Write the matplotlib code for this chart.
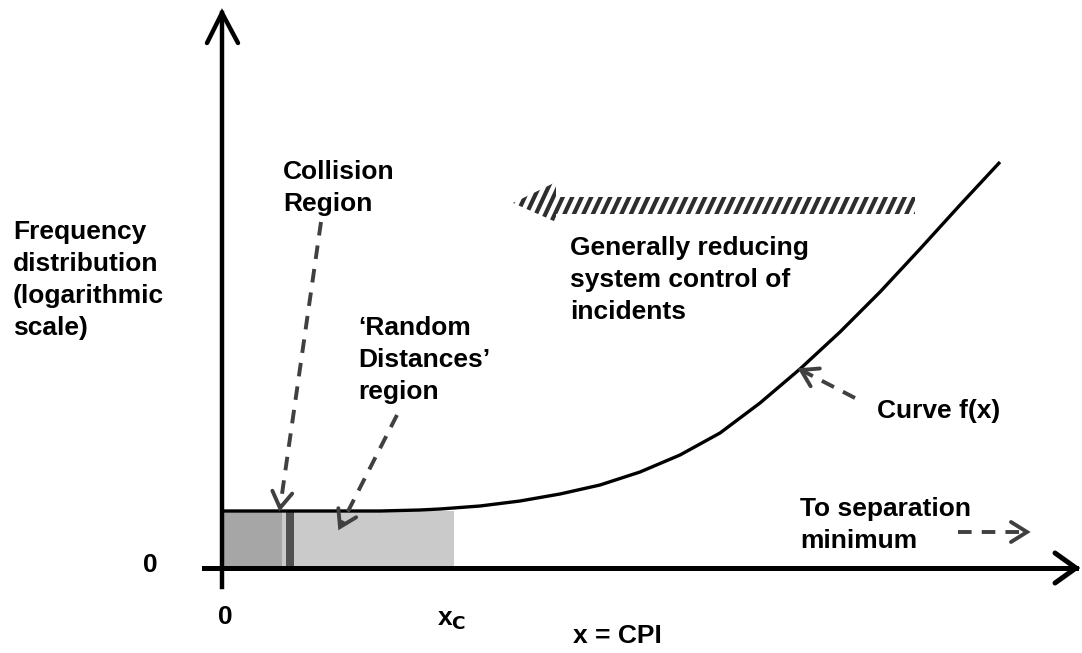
import matplotlib
matplotlib.use("Agg")
import matplotlib.pyplot as plt
from matplotlib.patches import Rectangle, Polygon
import numpy as np

plt.rcParams['font.family'] = ['Liberation Sans', 'DejaVu Sans']

# Diagram coordinates (pixel-like units, y grows downward)
curve_x = [222, 300, 380, 420, 440, 480, 520, 560, 600, 640, 680, 720, 760, 800, 840, 880, 920, 960, 1000]
curve_y = [511, 511, 511, 510, 509, 506, 501, 494, 485, 472, 455, 433, 403, 369, 332, 292, 249, 205, 162]

FS = 19
LS = 1.42
GRAY = '#404040'

fig = plt.figure(figsize=(10.82, 6.53), dpi=100)
ax = fig.add_axes([0, 0, 1, 1])
ax.set_xlim(0, 1082)
ax.set_ylim(653, 0)
ax.axis('off')

# shaded regions
ax.add_patch(Rectangle((222, 511), 60, 57, facecolor='#a6a6a6', edgecolor='none', zorder=1))
ax.add_patch(Rectangle((282, 511), 172, 57, facecolor='#cacaca', edgecolor='none', zorder=1))
ax.add_patch(Rectangle((286, 511), 8, 57, facecolor='#505050', edgecolor='none', zorder=2))

# curve
ax.plot(curve_x, curve_y, color='black', lw=2.4, zorder=3, solid_capstyle='butt')

# axes
ax.plot([222, 222], [587, 13], color='black', lw=3.2, zorder=4)
ax.plot([207, 222, 238], [43, 13, 43], color='black', lw=3.2, solid_capstyle='round', solid_joinstyle='miter', zorder=4)
ax.plot([204, 1076], [568, 568], color='black', lw=3.6, zorder=4)
ax.plot([1055, 1076, 1055], [553, 568, 583], color='black', lw=3.6, solid_capstyle='round', solid_joinstyle='miter', zorder=4)

# hatched arrow (striped fill clipped to arrow outline)
hx = [513, 556, 556, 915, 915, 556, 556]
hy = [203, 182, 197, 197, 214, 214, 222]
clip = Polygon(np.column_stack([hx, hy]), closed=True, facecolor='none', edgecolor='none', lw=0)
ax.add_patch(clip)
for s in np.arange(480, 940, 9.5):
    ln, = ax.plot([s, s + 28], [232, 172], color='#2e2e2e', lw=3.0, solid_capstyle='butt', zorder=2)
    ln.set_clip_path(clip)

def dashed(p0, p1):
    p0 = np.array(p0, float); p1 = np.array(p1, float)
    v = p1 - p0
    v /= np.hypot(*v)
    ax.plot([p0[0], p1[0] - v[0] * 3], [p0[1], p1[1] - v[1] * 3], color=GRAY, lw=2.8,
            linestyle=(0, (3.5, 2.6)), zorder=5)
    n = np.array([-v[1], v[0]])
    L, W = 16, 10
    b = p1 - v * L
    ax.plot([b[0] + n[0] * W, p1[0], b[0] - n[0] * W], [b[1] + n[1] * W, p1[1], b[1] - n[1] * W],
            color=GRAY, lw=2.8, solid_capstyle='round', solid_joinstyle='miter', zorder=5)

dashed((321, 222), (280, 508))
dashed((397, 415), (340, 527))
dashed((855, 398), (801, 370))
dashed((958, 532), (1027, 532))

tk = dict(va='top', ha='left', fontsize=FS, fontweight='bold', linespacing=LS)
ax.text(13, 220, 'Frequency\ndistribution\n(logarithmic\nscale)', **tk)
ax.text(283, 160, 'Collision\nRegion', **tk)
ax.text(358, 316, '\u2018Random\nDistances\u2019\nregion', **tk)
ax.text(570, 236, 'Generally reducing\nsystem control of\nincidents', **tk)
ax.text(877, 411, 'Curve f(x)', va='center', ha='left', fontsize=FS, fontweight='bold')
ax.text(800, 497, 'To separation\nminimum', **tk)
ax.text(150, 565, '0', va='center', ha='center', fontsize=FS, fontweight='bold')
ax.text(225, 617, '0', va='center', ha='center', fontsize=FS, fontweight='bold')
ax.text(452, 620, 'x$_\\mathbf{C}$', va='center', ha='center', fontsize=FS, fontweight='bold')
ax.text(617, 636, 'x = CPI', va='center', ha='center', fontsize=FS, fontweight='bold')

fig.savefig('out.png', dpi=100)
